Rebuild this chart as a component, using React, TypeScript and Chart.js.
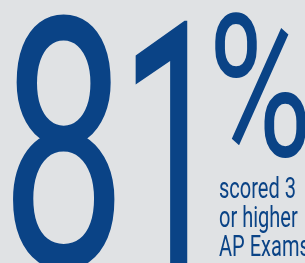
import React, { useEffect, useRef } from "react";
import { Chart, registerables } from "chart.js";

Chart.register(...registerables);

const statDigits = ["8", "1"];
const statSuffix = ["%"];
const captionLines = ["scored 3", "or higher", "AP Exams"];

const BG = "#e0e2e4";
const BLUE = "#0a4386";

type Box = { l: number; t: number; r: number; b: number };

function drawFitted(ctx: CanvasRenderingContext2D, text: string, font: string, box: Box) {
  ctx.save();
  ctx.font = font;
  ctx.textAlign = "left";
  ctx.textBaseline = "alphabetic";
  const m = ctx.measureText(text);
  const w = m.actualBoundingBoxLeft + m.actualBoundingBoxRight;
  const h = m.actualBoundingBoxAscent + m.actualBoundingBoxDescent;
  const sx = (box.r - box.l) / w;
  const sy = (box.b - box.t) / h;
  ctx.translate(box.l, box.t);
  ctx.scale(sx, sy);
  ctx.fillStyle = BLUE;
  ctx.fillText(text, m.actualBoundingBoxLeft, m.actualBoundingBoxAscent);
  ctx.restore();
}

const infographicPlugin = {
  id: "infographic",
  beforeDraw(chart: any) {
    const ctx: CanvasRenderingContext2D = chart.ctx;
    ctx.save();
    ctx.fillStyle = BG;
    ctx.fillRect(0, 0, chart.width, chart.height);
    ctx.restore();
  },
  afterDraw(chart: any) {
    const ctx: CanvasRenderingContext2D = chart.ctx;
    const digitBoxes: Box[] = [
      { l: 13, t: 13, r: 115, b: 270 },
      { l: 135, t: 19, r: 188, b: 275 },
    ];
    statDigits.forEach((d, i) => drawFitted(ctx, d, "400 200px Roboto", digitBoxes[i]));
    drawFitted(ctx, statSuffix[0], "400 100px Roboto", { l: 215, t: 13, r: 306, b: 158 });

    // caption
    ctx.save();
    ctx.font = "400 28px Roboto";
    const capH = ctx.measureText("H").actualBoundingBoxAscent;
    const fs = (28 * 21) / capH;
    ctx.font = `400 ${fs}px Roboto`;
    const w0 = ctx.measureText(captionLines[0]).width;
    const sx = 77 / w0;
    ctx.fillStyle = BLUE;
    ctx.textBaseline = "alphabetic";
    const baselines = [198, 227, 256];
    captionLines.forEach((line, i) => {
      ctx.save();
      ctx.translate(219, baselines[i]);
      ctx.scale(sx, 1);
      ctx.fillText(line, 0, 0);
      ctx.restore();
    });
    ctx.restore();
  },
};

export default function App() {
  const ref = useRef<HTMLCanvasElement | null>(null);
  useEffect(() => {
    if (!ref.current) return;
    const chart = new Chart(ref.current, {
      type: "bar",
      data: { labels: [], datasets: [] },
      options: {
        animation: false,
        responsive: false,
        devicePixelRatio: 1,
        events: [],
        layout: { padding: 0 },
        plugins: { legend: { display: false }, tooltip: { enabled: false }, title: { display: false } },
        scales: { x: { display: false }, y: { display: false } },
      },
      plugins: [infographicPlugin],
    });
    return () => chart.destroy();
  }, []);
  return (
    <div style={{ position: "fixed", left: 0, top: 0, width: 305, height: 263, background: BG, overflow: "hidden" }}>
      <canvas ref={ref} width={305} height={263} style={{ display: "block" }} />
    </div>
  );
}
